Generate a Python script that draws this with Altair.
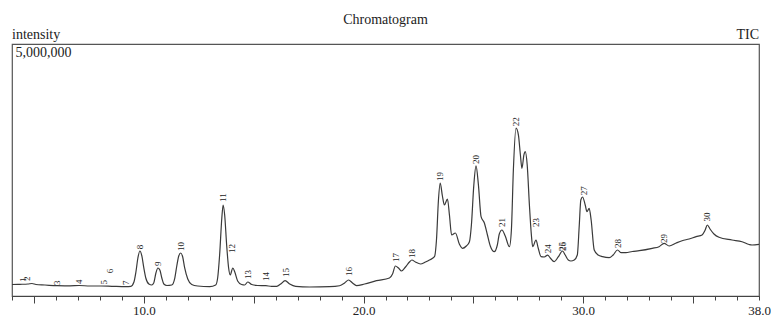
import altair as alt
import pandas as pd

# Retention time (min) and TIC intensity (millions of counts)
time_min = [
    4.00, 4.36, 4.73, 4.91, 5.09, 5.50, 6.05, 6.64, 7.05, 7.55, 8.05, 8.55, 9.18, 9.41,
    9.55, 9.64, 9.73, 9.82, 9.91, 10.00, 10.09, 10.23, 10.36, 10.45, 10.55, 10.64, 10.73,
    10.82, 10.91, 11.05, 11.27, 11.41, 11.50, 11.59, 11.68, 11.77, 11.86, 12.00, 12.18,
    12.45, 13.00, 13.27, 13.36, 13.45, 13.55, 13.61, 13.68, 13.77, 13.86, 13.93, 14.05,
    14.14, 14.27, 14.45, 14.59, 14.73, 14.91, 15.18, 15.55, 15.82, 16.05, 16.23, 16.43,
    16.64, 16.91, 17.55, 18.45, 18.91, 19.14, 19.32, 19.50, 19.68, 20.05, 20.59, 21.18,
    21.32, 21.45, 21.59, 21.73, 21.91, 22.09, 22.20, 22.36, 22.59, 22.82, 23.00, 23.23,
    23.32, 23.41, 23.49, 23.59, 23.68, 23.82, 23.91, 24.01, 24.18, 24.36, 24.50, 24.68,
    24.82, 24.91, 25.02, 25.12, 25.23, 25.35, 25.50, 25.64, 25.77, 25.95, 26.09, 26.18,
    26.30, 26.45, 26.64, 26.73, 26.82, 26.94, 27.05, 27.14, 27.21, 27.30, 27.36, 27.45,
    27.55, 27.64, 27.70, 27.85, 27.95, 28.08, 28.23, 28.38, 28.50, 28.68, 28.86, 29.06,
    29.18, 29.32, 29.44, 29.59, 29.73, 29.82, 29.89, 29.97, 30.09, 30.17, 30.27, 30.36,
    30.50, 30.68, 30.88, 31.18, 31.36, 31.56, 31.73, 31.94, 32.23, 32.55, 33.14, 33.45,
    33.68, 33.91, 34.23, 34.50, 34.82, 35.14, 35.41, 35.55, 35.65, 35.77, 35.95, 36.18,
    36.77, 37.23, 37.55, 37.68, 38.00,
]
intensity_m = [
    0.228, 0.232, 0.238, 0.248, 0.228, 0.218, 0.204, 0.202, 0.208, 0.198, 0.198, 0.192, 0.185, 0.192,
    0.278, 0.476, 0.754, 0.893, 0.794, 0.556, 0.357, 0.238, 0.218, 0.258, 0.456, 0.556, 0.516,
    0.357, 0.238, 0.208, 0.218, 0.357, 0.595, 0.794, 0.853, 0.774, 0.556, 0.337, 0.228,
    0.198, 0.185, 0.218, 0.357, 0.813, 1.548, 1.806, 1.607, 1.012, 0.556, 0.417, 0.556,
    0.476, 0.298, 0.228, 0.218, 0.278, 0.228, 0.208, 0.204, 0.192, 0.192, 0.238, 0.304,
    0.238, 0.192, 0.179, 0.185, 0.204, 0.258, 0.317, 0.258, 0.204, 0.238, 0.304, 0.357,
    0.437, 0.595, 0.556, 0.496, 0.575, 0.675, 0.714, 0.675, 0.635, 0.675, 0.714, 0.780,
    1.111, 1.905, 2.242, 1.984, 1.806, 1.925, 1.607, 1.210, 1.250, 1.032, 0.946, 0.992,
    1.077, 1.409, 2.200, 2.580, 2.200, 1.573, 1.448, 1.210, 0.992, 0.879, 1.012, 1.230,
    1.310, 1.190, 0.978, 1.310, 2.500, 3.330, 3.194, 2.798, 2.534, 2.798, 2.863, 2.599,
    1.806, 1.210, 0.978, 1.111, 0.952, 0.780, 0.774, 0.813, 0.754, 0.681, 0.774, 0.893,
    0.813, 0.714, 0.694, 0.714, 0.813, 1.409, 1.905, 1.964, 1.806, 1.673, 1.740, 1.508,
    0.913, 0.813, 0.780, 0.760, 0.813, 0.913, 0.859, 0.859, 0.883, 0.899, 0.946, 0.978,
    1.046, 0.992, 1.052, 1.097, 1.131, 1.177, 1.210, 1.310, 1.409, 1.329, 1.230, 1.165,
    1.111, 1.077, 1.022, 1.012, 1.026,
]

# Peak numbers and where their labels sit
peak_labels = [str(i) for i in range(1, 31)]
peak_time = [4.50, 4.68, 6.05, 7.05, 8.18, 8.45, 9.18, 9.82, 10.64, 11.68,
             13.61, 14.00, 14.73, 15.55, 16.45, 19.32, 21.48, 22.20, 23.49, 25.12,
             26.30, 26.94, 27.85, 28.38, 29.02, 29.09, 30.05, 31.56, 33.68, 35.65]
peak_label_m = [0.24, 0.26, 0.18, 0.20, 0.19, 0.41, 0.18, 0.89, 0.556, 0.853,
                1.825, 0.813, 0.30, 0.26, 0.337, 0.357, 0.635, 0.714, 2.24, 2.58,
                1.33, 3.33, 1.33, 0.81, 0.853, 0.853, 1.96, 0.913, 1.012, 1.44]

x_tick_values = list(range(4, 39))
x_major_ticks = [5, 10, 15, 20, 25, 30, 35]
x_labeled = [10, 20, 30, 38]

df = pd.DataFrame({"t": time_min, "I": [v * 1e6 for v in intensity_m]})
lab = pd.DataFrame({"t": peak_time, "I": [v * 1e6 for v in peak_label_m], "lab": peak_labels})

SERIF = "Liberation Serif"
INK = "#222222"
x_scale = alt.Scale(domain=[4, 38], nice=False, zero=False)
y_scale = alt.Scale(domain=[0, 5000000], nice=False, zero=True)

y_axis = alt.Axis(values=[5000000], format=",d", title=None, ticks=False, tickSize=0,
                  domain=False, grid=False, labelAlign="left", labelBaseline="top",
                  labelPadding=-3, labelOffset=1, labelFont=SERIF, labelFontSize=14,
                  labelColor=INK)

label_expr = " || ".join(f"datum.value == {v}" for v in x_labeled)
label_expr = f"({label_expr}) ? format(datum.value, '.1f') : ''"

line = alt.Chart(df).mark_line(color="#3a3a3a", strokeWidth=1.2, interpolate="monotone").encode(
    x=alt.X("t:Q", scale=x_scale,
            axis=alt.Axis(orient="bottom", values=x_tick_values, tickSize=4, labelExpr=label_expr,
                          title=None, grid=False, domainColor="#444", tickColor="#444",
                          labelFont=SERIF, labelFontSize=13, labelColor=INK, labelPadding=4,
                          labelFlush=False, labelOverlap=False)),
    y=alt.Y("I:Q", scale=y_scale, axis=y_axis),
)

labels = alt.Chart(lab).mark_text(angle=270, align="left", baseline="middle", dx=2,
                                  font=SERIF, fontSize=9, color=INK).encode(
    x=alt.X("t:Q", scale=x_scale,
            axis=alt.Axis(orient="bottom", values=x_major_ticks, tickSize=7, labels=False,
                          domain=False, grid=False, title=None, tickColor="#444")),
    y=alt.Y("I:Q", scale=y_scale, axis=y_axis),
    text="lab:N",
)

title_txt = alt.Chart(pd.DataFrame({"s": ["Chromatogram"]})).mark_text(
    font=SERIF, fontSize=14, align="center", baseline="alphabetic", color=INK
).encode(text="s:N", x=alt.value(373.5), y=alt.value(-20))

ylab_txt = alt.Chart(pd.DataFrame({"s": ["intensity"]})).mark_text(
    font=SERIF, fontSize=14, align="left", baseline="alphabetic", color=INK
).encode(text="s:N", x=alt.value(0), y=alt.value(-5))

tic_txt = alt.Chart(pd.DataFrame({"s": ["TIC"]})).mark_text(
    font=SERIF, fontSize=14, align="right", baseline="alphabetic", color=INK
).encode(text="s:N", x=alt.value(747), y=alt.value(-5))

chart = alt.layer(line, labels, title_txt, ylab_txt, tic_txt).resolve_axis(
    x="independent"
).properties(
    width=747, height=252,
    autosize=alt.AutoSizeParams(type="none"),
    padding={"left": 12, "top": 44, "right": 12, "bottom": 24},
    background="white",
).configure_view(stroke="#555555", strokeWidth=1.2)

chart.save("out.html", embed_options={"renderer": "svg", "actions": False})
